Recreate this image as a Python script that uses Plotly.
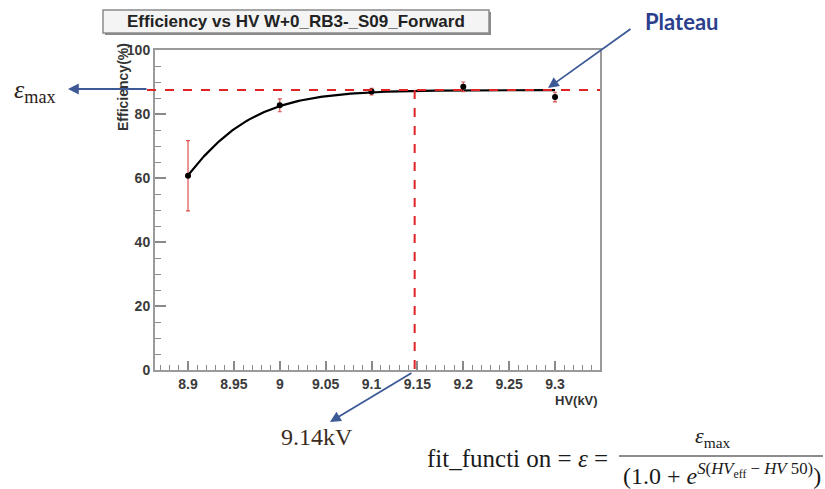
import plotly.graph_objects as go
import numpy as np

# ---- data ----
hv = [8.9, 9.0, 9.1, 9.2, 9.3]
eff = [60.7, 82.7, 87.0, 88.5, 85.3]
eff_err = [11.0, 2.0, 1.0, 1.5, 1.5]

# fit parameters (sigmoid)
eps_max = 87.5
slope = 19.7
hv50 = 8.858
hv_knee = 9.147
x_tick_vals = [8.9, 8.95, 9.0, 9.05, 9.1, 9.15, 9.2, 9.25, 9.3]
x_tick_text = ["8.9", "8.95", "9", "9.05", "9.1", "9.15", "9.2", "9.25", "9.3"]
y_tick_vals = [0, 20, 40, 60, 80, 100]

W, H = 825, 489
L, R, T, B = 155, 600, 50, 370

def px(x):
    return (x - L) / (R - L)

def py(y):
    return (B - y) / (B - T)

fit_x = np.linspace(hv[0], hv[-1], 200)
fit_y = eps_max / (1.0 + np.exp(-slope * (fit_x - hv50)))

fig = go.Figure()
fig.add_trace(go.Scatter(
    x=fit_x, y=fit_y, mode="lines",
    line=dict(color="black", width=2.2), hoverinfo="skip", showlegend=False))
fig.add_trace(go.Scatter(
    x=hv, y=eff, mode="markers",
    marker=dict(color="black", size=6),
    error_y=dict(type="data", array=eff_err, color="#d9534f", thickness=1.2, width=2),
    showlegend=False))

axis_common = dict(showline=True, linecolor="#9a9a9a", linewidth=2, mirror=True,
                   showgrid=False, zeroline=False, ticks="inside",
                   tickcolor="#8a8a8a", tickwidth=1.5,
                   tickfont=dict(family="Liberation Sans", size=14, color="#3a3a3a", weight="bold"))

fig.update_xaxes(range=[8.864, 9.349], tickvals=x_tick_vals, ticktext=x_tick_text,
                 ticklen=9, minor=dict(ticks="inside", dtick=0.01, ticklen=5,
                                       tickcolor="#8a8a8a", tickwidth=1.2),
                 **axis_common)
fig.update_yaxes(range=[0, 100], tickvals=y_tick_vals, ticklen=11,
                 minor=dict(ticks="inside", dtick=5, ticklen=6,
                            tickcolor="#8a8a8a", tickwidth=1.2),
                 **axis_common)

red = "#e02424"
# horizontal plateau line
fig.add_shape(type="line", xref="paper", yref="y", x0=px(147), x1=1.0, y0=eps_max, y1=eps_max,
              line=dict(color=red, width=2, dash="dash"))
# vertical knee line
fig.add_shape(type="line", xref="x", yref="y", x0=hv_knee, x1=hv_knee, y0=eps_max, y1=0,
              line=dict(color=red, width=2, dash="dash"))

# title box
fig.add_shape(type="rect", xref="paper", yref="paper", x0=px(105), x1=px(491), y0=py(35), y1=py(12),
              line=dict(color="#777777", width=0), fillcolor="#8a8a8a")
fig.add_shape(type="rect", xref="paper", yref="paper", x0=px(103), x1=px(489), y0=py(33), y1=py(10),
              line=dict(color="#8a8a8a", width=1.5), fillcolor="#f4f4f4")

blue = "#3d5a96"

def text_ann(x, y, text, font, xa="center", ya="middle", **kw):
    d = dict(x=px(x), y=py(y), xref="paper", yref="paper", showarrow=False, text=text,
             font=font, xanchor=xa, yanchor=ya)
    d.update(kw)
    return d

def arrow_ann(hx, hy, tx, ty):
    return dict(x=px(hx), y=py(hy), xref="paper", yref="paper", ax=tx - hx, ay=ty - hy,
                showarrow=True, arrowhead=2, arrowsize=1.2, arrowwidth=1.8,
                arrowcolor=blue, text="", xanchor="center", yanchor="middle")

ann = []
ann.append(text_ann(296, 21.5, "<b>Efficiency vs HV W+0_RB3-_S09_Forward</b>",
                    dict(family="Liberation Sans", size=17, color="#222222")))
ann.append(text_ann(123, 41, "<b>Efficiency(%)</b>",
                    dict(family="Liberation Sans", size=14, color="#333333"),
                    xa="center", ya="top", textangle=-90))
ann.append(text_ann(600, 400, "<b>HV(kV)</b>",
                    dict(family="Liberation Sans", size=13, color="#333333"), xa="right"))
# Plateau
ann.append(arrow_ann(548, 88, 632, 28))
ann.append(text_ann(681, 21, "<b>Plateau</b>", dict(family="Lato", size=22, color="#2b3f8c")))
# eps_max
ann.append(arrow_ann(68, 89, 148, 89))
ann.append(text_ann(35, 91, "<i>ε</i><sub>max</sub>",
                    dict(family="Liberation Serif", size=26, color="#2a2018")))
# 9.14kV
ann.append(arrow_ann(330, 422, 413, 372))
ann.append(text_ann(317, 437, "9.14kV", dict(family="Liberation Serif", size=24, color="#3a2c20")))
# formula
ann.append(text_ann(616, 458, "fit_functi on = <i>ε</i> = ",
                    dict(family="Liberation Serif", size=25, color="#1a1a1a"), xa="right"))
ann.append(text_ann(712, 437, "<i>ε</i><sub>max</sub>",
                    dict(family="Liberation Serif", size=22, color="#1a1a1a")))
ann.append(text_ann(722, 474,
                    "(1.0 + <i>e</i><sup><i>S</i>(<i>HV</i><sub>eff</sub> − <i>HV</i> 50)</sup>)",
                    dict(family="Liberation Serif", size=24, color="#1a1a1a")))
fig.add_shape(type="line", xref="paper", yref="paper", x0=px(619), x1=px(823), y0=py(456), y1=py(456),
              line=dict(color="#1a1a1a", width=1.2))

fig.update_layout(width=W, height=H, margin=dict(l=L, r=W - R, t=T, b=H - B),
                  paper_bgcolor="white", plot_bgcolor="white", annotations=ann,
                  showlegend=False)
fig.write_html("out.html")
